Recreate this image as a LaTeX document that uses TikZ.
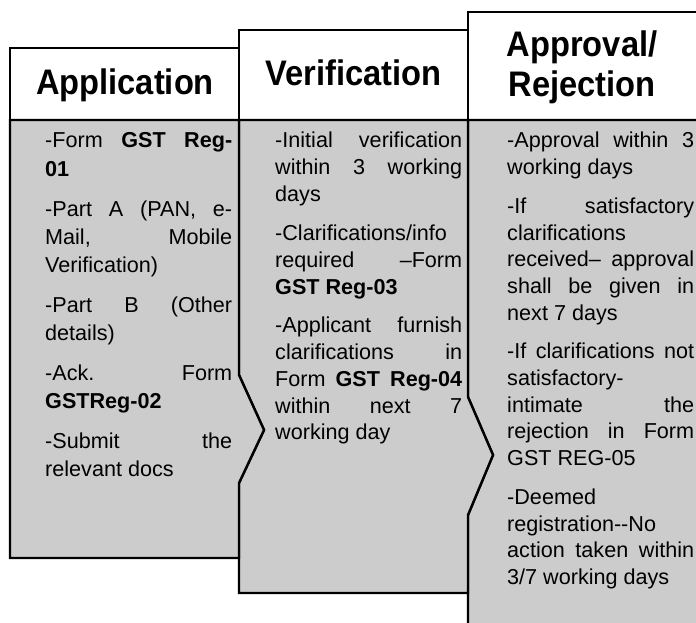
\documentclass[tikz,border=0pt]{standalone}
\usepackage{fontspec}
\setmainfont{Liberation Sans}
\newfontfamily\hdfont[FakeStretch=0.92]{Liberation Sans}
\definecolor{bodygray}{RGB}{204,204,204}
\newcommand\JL[1]{\makebox[\linewidth][s]{#1}\par}
\newcommand\LL[1]{\makebox[\linewidth][l]{#1}\par}
\newcommand\PG{\vspace{12pt}}
\tikzset{
  border/.style={line width=2.4pt, draw=black, line join=miter},
  hdr/.style={border, fill=white},
  body/.style={border, fill=bodygray},
  hdtext/.style={inner sep=0pt, anchor=base, font=\hdfont\fontsize{35.5}{40}\selectfont\bfseries},
  bodytext/.style={inner sep=0pt, anchor=base west},
}
\begin{document}
\begin{tikzpicture}[x=1pt,y=-1pt]
\clip (0,0) rectangle (696,623);
% Approval / Rejection column
\draw[hdr] (468,12) rectangle (710,120);
\draw[body] (468,120) -- (710,120) -- (710,640) -- (468,640) -- (468,515) -- (493,455) -- (468,397) -- cycle;
% Verification column
\draw[hdr] (239,30) rectangle (468,120);
\draw[body] (239,120) -- (468,120) -- (468,397) -- (493,455) -- (468,515) -- (468,593) -- (239,593) -- (239,483) -- (264,430) -- (239,375) -- cycle;
% Application column
\draw[hdr] (10,48) rectangle (239,120);
\draw[body] (10,120) -- (239,120) -- (239,375) -- (264,430) -- (239,483) -- (239,558) -- (10,558) -- cycle;

% headers
\node[hdtext] (happ) at (125,95) {Application};
\node[hdtext] (hver) at (353.5,85.5) {Verification};
\node[hdtext] (hapr) at (582,57) {\parbox[t]{220pt}{\centering Approval/\\Rejection}};

% body texts
\node[bodytext] (tapp) at (45,148) {\parbox[t]{187pt}{\fontsize{21.6}{28.1}\selectfont
\JL{-Form \textbf{GST Reg-}}
\LL{\textbf{01}}\PG
\JL{-Part A (PAN, e-}
\JL{Mail, Mobile}
\LL{Verification)}\PG
\JL{-Part B (Other}
\LL{details)}\PG
\JL{-Ack. Form}
\LL{\textbf{GSTReg-02}}\PG
\JL{-Submit the}
\LL{relevant docs}}};

\node[bodytext] (tver) at (275,148) {\parbox[t]{187pt}{\fontsize{21.6}{26.8}\selectfont
\JL{-Initial verification}
\JL{within 3 working}
\LL{days}\PG
\LL{-Clarifications/info}
\JL{required –Form}
\LL{\textbf{GST Reg-03}}\PG
\JL{-Applicant furnish}
\JL{clarifications in}
\JL{Form \textbf{GST Reg-04}}
\JL{within next 7}
\LL{working day}}};

\node[bodytext] (tapr) at (507,148) {\parbox[t]{187pt}{\fontsize{21.6}{26.7}\selectfont
\JL{-Approval within 3}
\LL{working days}\PG
\JL{-If satisfactory}
\LL{clarifications}
\JL{received– approval}
\JL{shall be given in}
\LL{next 7 days}\PG
\JL{-If clarifications not}
\LL{satisfactory-}
\JL{intimate the}
\JL{rejection in Form}
\LL{GST REG-05}\PG
\LL{-Deemed}
\LL{registration-\kern0pt-No}
\JL{action taken within}
\LL{3/7 working days}}};
\end{tikzpicture}
\end{document}
